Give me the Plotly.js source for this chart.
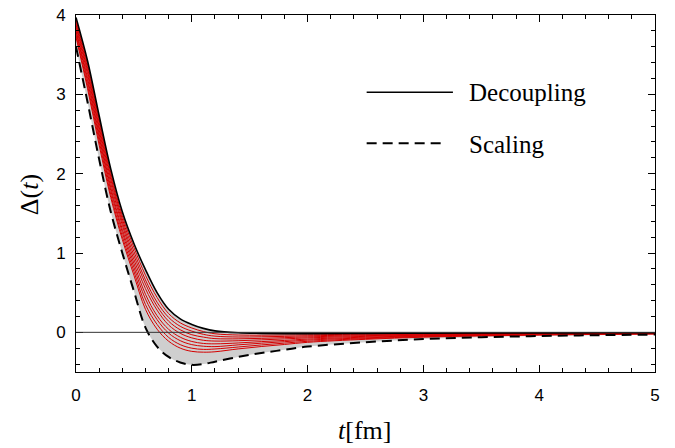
<!DOCTYPE html>
<html>
<head>
<meta charset="utf-8">
<script src="https://cdn.plot.ly/plotly-3.0.1.min.js"></script>
<style>html,body{margin:0;padding:0;background:#fff;}#chart{width:675px;height:448px;}</style>
</head>
<body>
<div id="chart"></div>
<script>
// time grid (fm)
const tGrid = [0, 0.1, 0.2, 0.3, 0.4, 0.5, 0.6, 0.7, 0.8, 0.9, 1.0, 1.1, 1.2, 1.4, 1.6, 1.8, 2.0, 2.5, 3.0, 3.5, 4.0, 4.5, 5.0];

// Decoupling (solid black)
const decoupling = [3.97, 3.42, 2.73, 2.06, 1.52, 1.12, 0.79, 0.50, 0.29, 0.17, 0.10, 0.05, 0.018, -0.006, -0.013, -0.016, -0.016, -0.014, -0.011, -0.009, -0.007, -0.006, -0.005];

// Scaling (dashed black)
const scaling = [3.60, 2.90, 2.18, 1.52, 1.00, 0.52, 0.06, -0.18, -0.31, -0.38, -0.41, -0.40, -0.37, -0.31, -0.26, -0.22, -0.18, -0.125, -0.085, -0.062, -0.047, -0.036, -0.028];

// intermediate red curves
const red1 = [3.94, 3.37, 2.68, 2.01, 1.47, 1.07, 0.72, 0.44, 0.236, 0.12, 0.055, 0.01, -0.018, -0.034, -0.036, -0.034, -0.031, -0.024, -0.018, -0.014, -0.011, -0.009, -0.007];
const red2 = [3.91, 3.33, 2.64, 1.97, 1.43, 1.02, 0.66, 0.38, 0.188, 0.076, 0.015, -0.025, -0.048, -0.059, -0.056, -0.051, -0.044, -0.033, -0.024, -0.018, -0.014, -0.011, -0.009];
const red3 = [3.88, 3.29, 2.59, 1.93, 1.39, 0.97, 0.61, 0.33, 0.14, 0.032, -0.03, -0.06, -0.079, -0.082, -0.076, -0.067, -0.057, -0.042, -0.030, -0.022, -0.017, -0.0135, -0.011];
const red4 = [3.85, 3.25, 2.55, 1.88, 1.35, 0.92, 0.55, 0.28, 0.092, -0.012, -0.07, -0.10, -0.11, -0.106, -0.095, -0.083, -0.070, -0.051, -0.035, -0.026, -0.020, -0.016, -0.013];
const red5 = [3.81, 3.20, 2.50, 1.83, 1.30, 0.87, 0.48, 0.21, 0.038, -0.061, -0.115, -0.14, -0.145, -0.134, -0.117, -0.102, -0.085, -0.061, -0.042, -0.031, -0.024, -0.019, -0.015];
const red6 = [3.79, 3.16, 2.46, 1.79, 1.26, 0.82, 0.42, 0.16, -0.01, -0.105, -0.155, -0.175, -0.18, -0.158, -0.137, -0.118, -0.098, -0.070, -0.048, -0.036, -0.027, -0.021, -0.0165];
const red7 = [3.75, 3.11, 2.41, 1.74, 1.21, 0.77, 0.35, 0.10, -0.064, -0.155, -0.20, -0.215, -0.21, -0.185, -0.159, -0.136, -0.113, -0.079, -0.055, -0.040, -0.031, -0.024, -0.019];
const red8 = [3.72, 3.07, 2.36, 1.70, 1.17, 0.72, 0.29, 0.04, -0.112, -0.199, -0.24, -0.25, -0.245, -0.209, -0.179, -0.153, -0.126, -0.088, -0.061, -0.045, -0.034, -0.026, -0.020];
const redCurves = [red1, red2, red3, red4, red5, red6, red7, red8];

const xTickVals = [0, 1, 2, 3, 4, 5];
const yTickVals = [0, 1, 2, 3, 4];
const legendNames = ["Decoupling", "Scaling"];

const serif = "Liberation Serif, DejaVu Serif, serif";
const sans = "Liberation Sans, Arial, sans-serif";
const sm = 1.0;

const traces = [];
// band between the two bounds
traces.push({x: tGrid, y: scaling, mode: 'lines', line: {color: 'rgba(0,0,0,0)', width: 0, shape: 'spline', smoothing: sm}, hoverinfo: 'skip', showlegend: false});
traces.push({x: tGrid, y: decoupling, mode: 'lines', fill: 'tonexty', fillcolor: '#cfcfcf', line: {color: 'rgba(0,0,0,0)', width: 0, shape: 'spline', smoothing: sm}, hoverinfo: 'skip', showlegend: false});
redCurves.forEach(r => {
  traces.push({x: tGrid, y: r, mode: 'lines', line: {color: '#d40000', width: 1, shape: 'spline', smoothing: sm}, showlegend: false});
});
traces.push({x: tGrid, y: decoupling, mode: 'lines', name: legendNames[0], line: {color: '#000', width: 1.6, shape: 'spline', smoothing: sm}, showlegend: false});
traces.push({x: tGrid, y: scaling, mode: 'lines', name: legendNames[1], line: {color: '#000', width: 2, dash: '10px,6px', shape: 'spline', smoothing: sm}, showlegend: false});

const layout = {
  width: 675, height: 448,
  margin: {l: 76, r: 20, t: 15, b: 76},
  paper_bgcolor: '#fff', plot_bgcolor: '#fff',
  showlegend: false,
  xaxis: {
    range: [0, 5], tickvals: xTickVals, ticktext: xTickVals.map(String),
    ticks: 'inside', ticklen: 7, tickcolor: '#000', tickwidth: 1,
    minor: {dtick: 0.2, ticks: 'inside', ticklen: 4, tickcolor: '#000', tickwidth: 1, showgrid: false},
    showline: true, linecolor: '#000', linewidth: 1, mirror: 'ticks',
    showgrid: false, zeroline: false,
    tickfont: {family: sans, size: 17, color: '#000'}, ticklabelstandoff: 8
  },
  yaxis: {
    range: [-0.5, 4], tickvals: yTickVals, ticktext: yTickVals.map(String),
    ticks: 'inside', ticklen: 7, tickcolor: '#000', tickwidth: 1,
    minor: {dtick: 0.2, ticks: 'inside', ticklen: 4, tickcolor: '#000', tickwidth: 1, showgrid: false},
    showline: true, linecolor: '#000', linewidth: 1, mirror: 'ticks',
    showgrid: false, zeroline: false,
    tickfont: {family: sans, size: 17, color: '#000'}, ticklabelstandoff: 6
  },
  shapes: [
    {type: 'line', xref: 'paper', yref: 'y', x0: 0, x1: 1, y0: 0, y1: 0, line: {color: '#333', width: 1}, layer: 'above'},
    {type: 'line', xref: 'paper', yref: 'paper', x0: 0.502, x1: 0.651, y0: 0.7835, y1: 0.7835, line: {color: '#000', width: 1.6}},
    {type: 'line', xref: 'paper', yref: 'paper', x0: 0.502, x1: 0.640, y0: 0.6406, y1: 0.6406, line: {color: '#000', width: 2, dash: '10px,6px'}}
  ],
  annotations: [
    {xref: 'paper', yref: 'paper', x: 0.675, y: 0.7835, xanchor: 'left', yanchor: 'middle', text: legendNames[0], showarrow: false, font: {family: serif, size: 25, color: '#000'}},
    {xref: 'paper', yref: 'paper', x: 0.675, y: 0.638, xanchor: 'left', yanchor: 'middle', text: legendNames[1], showarrow: false, font: {family: serif, size: 25, color: '#000'}},
    {xref: 'paper', yref: 'paper', x: -0.079, y: 0.496, xanchor: 'center', yanchor: 'middle', textangle: -90, text: 'Δ(<i>t</i>)', showarrow: false, font: {family: serif, size: 26, color: '#000'}},
    {xref: 'paper', yref: 'paper', x: 0.499, y: -0.1625, xanchor: 'center', yanchor: 'middle', text: '<i>t</i>[fm]', showarrow: false, font: {family: serif, size: 26, color: '#000'}}
  ]
};

Plotly.newPlot('chart', traces, layout, {staticPlot: true, displayModeBar: false});
</script>
</body>
</html>
